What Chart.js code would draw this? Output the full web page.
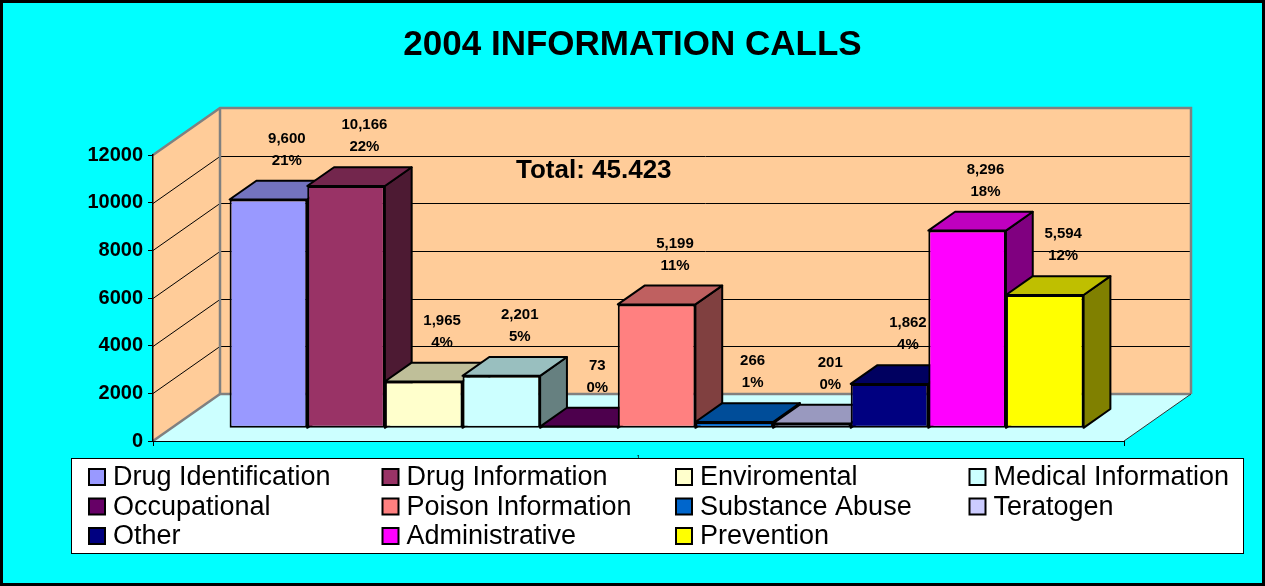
<!DOCTYPE html>
<html>
<head>
<meta charset="utf-8">
<title>2004 Information Calls</title>
<script src="https://cdn.jsdelivr.net/npm/chart.js@4.4.1/dist/chart.umd.min.js"></script>
<style>
  html, body { margin: 0; padding: 0; background: #00FFFF; }
  canvas { display: block; }
</style>
</head>
<body>
<canvas id="calls" width="1265" height="586"></canvas>
<script>
// ---- data ----
const categories = ['1'];
const seriesNames = [
  'Drug Identification', 'Drug Information', 'Enviromental', 'Medical Information',
  'Occupational', 'Poison Information', 'Substance Abuse', 'Teratogen',
  'Other', 'Administrative', 'Prevention'
];
const callCounts = [9600, 10166, 1965, 2201, 73, 5199, 266, 201, 1862, 8296, 5594];
const yTickValues = [0, 2000, 4000, 6000, 8000, 10000, 12000];
const seriesColors = [
  '#9999FF', '#993366', '#FFFFCC', '#CCFFFF', '#660066', '#FF8080',
  '#0066CC', '#CCCCFF', '#000080', '#FF00FF', '#FFFF00'
];

// ---- styling / 3D projection ----
const FONT = "'Liberation Sans', Arial, Helvetica, sans-serif";
Chart.defaults.font.family = FONT;
const DEPTH = { x: 67, y: -47 };      // floor depth as a screen offset
const BAR_FRONT = 0.27;               // bars start this far back on the floor
const BAR_DEPTH = 0.40;               // and are this deep
const WALL = '#FFCC99', FLOOR = '#CCFFFF', EDGE = '#808080';

const total = callCounts.reduce((a, b) => a + b, 0);
const groupDigits = (n, sep) => String(n).replace(/\B(?=(\d{3})+(?!\d))/g, sep);

function shade(hex, f) {
  const n = parseInt(hex.slice(1), 16);
  const r = Math.round(((n >> 16) & 255) * f);
  const g = Math.round(((n >> 8) & 255) * f);
  const b = Math.round((n & 255) * f);
  return `rgb(${r},${g},${b})`;
}

function polygon(ctx, pts, fill, stroke, lw) {
  ctx.beginPath();
  pts.forEach(([x, y], i) => (i ? ctx.lineTo(x, y) : ctx.moveTo(x, y)));
  ctx.closePath();
  if (fill) { ctx.fillStyle = fill; ctx.fill(); }
  if (stroke) { ctx.strokeStyle = stroke; ctx.lineWidth = lw; ctx.stroke(); }
}

function line(ctx, pts, color, lw) {
  ctx.beginPath();
  pts.forEach(([x, y], i) => (i ? ctx.lineTo(x, y) : ctx.moveTo(x, y)));
  ctx.strokeStyle = color; ctx.lineWidth = lw; ctx.stroke();
}

const chartFrame = {
  id: 'chartFrame',
  beforeDraw(chart) {
    const { ctx, width, height, chartArea: a, scales: { y } } = chart;
    ctx.save();
    ctx.fillStyle = '#00FFFF';
    ctx.fillRect(0, 0, width, height);
    ctx.strokeStyle = '#000';
    ctx.lineWidth = 3;
    ctx.strokeRect(1.5, 1.5, width - 3, height - 3);

    const L = a.left, R = a.right, B = a.bottom;
    const T = y.getPixelForValue(yTickValues[yTickValues.length - 1]);
    const dx = DEPTH.x, dy = DEPTH.y;

    polygon(ctx, [[L, B], [R, B], [R + dx, B + dy], [L + dx, B + dy]], FLOOR);
    polygon(ctx, [[L, B], [L, T], [L + dx, T + dy], [L + dx, B + dy]], WALL);
    polygon(ctx, [[L + dx, T + dy], [R + dx, T + dy], [R + dx, B + dy], [L + dx, B + dy]], WALL);

    // gridlines run across the side wall and along the back wall
    yTickValues.slice(1, -1).forEach(v => {
      const py = Math.round(y.getPixelForValue(v)) + 0.5;
      line(ctx, [[L, py], [L + dx, py + dy], [R + dx, py + dy]], '#000', 1);
    });

    // wall and floor edges
    line(ctx, [[L, T], [L + dx, T + dy], [R + dx, T + dy], [R + dx, B + dy]], EDGE, 2.5);
    line(ctx, [[L + dx, T + dy], [L + dx, B + dy], [R + dx, B + dy]], EDGE, 2.5);
    line(ctx, [[L, B], [L + dx, B + dy]], EDGE, 2.5);
    line(ctx, [[R, B], [R + dx, B + dy]], '#333', 1);
    ctx.restore();
  },

  beforeDatasetsDraw(chart) {
    const { ctx } = chart;
    const ox = DEPTH.x * BAR_FRONT, oy = DEPTH.y * BAR_FRONT;
    const bx = DEPTH.x * BAR_DEPTH, by = DEPTH.y * BAR_DEPTH;
    // left to right so each box covers the hidden side of its neighbour
    chart.data.datasets.forEach((ds, i) => {
      chart.getDatasetMeta(i).data.forEach(el => {
        const { x, y, base, width } = el.getProps(['x', 'y', 'base', 'width'], true);
        const l = x - width / 2 + ox, r = x + width / 2 + ox;
        const t = y + oy, b = base + oy;
        ctx.save();
        ctx.lineJoin = 'round';
        polygon(ctx, [[r, t], [r + bx, t + by], [r + bx, b + by], [r, b]], shade(ds.backgroundColor, 0.5), '#000', 2);
        polygon(ctx, [[l, t], [r, t], [r + bx, t + by], [l + bx, t + by]], shade(ds.backgroundColor, 0.75), '#000', 2);
        ctx.translate(ox, oy);
        el.draw(ctx);
        ctx.restore();
      });
    });
    return false;
  },

  afterDraw(chart) {
    const { ctx } = chart;
    const ox = DEPTH.x * BAR_FRONT, oy = DEPTH.y * BAR_FRONT;
    const bx = DEPTH.x * BAR_DEPTH, by = DEPTH.y * BAR_DEPTH;
    ctx.save();

    // value and share labels above each box
    ctx.fillStyle = '#000';
    ctx.textAlign = 'center';
    ctx.textBaseline = 'middle';
    ctx.font = `bold 15px ${FONT}`;
    chart.data.datasets.forEach((ds, i) => {
      chart.getDatasetMeta(i).data.forEach((el, j) => {
        const { x, y } = el.getProps(['x', 'y'], true);
        const v = ds.data[j];
        const cx = x + ox + bx / 2 + 5;
        const cy = y + oy + by - 20;
        ctx.fillText(groupDigits(v, ','), cx, cy - 22);
        ctx.fillText(Math.round(v / total * 100) + '%', cx, cy);
      });
    });

    // total annotation
    ctx.textAlign = 'left';
    ctx.font = `bold 26px ${FONT}`;
    ctx.fillText('Total: ' + groupDigits(total, '.'), 516, 171);

    // legend box: four columns, filled row by row
    const lx = 71.5, ly = 458.5, lw = 1172, lh = 95;
    ctx.fillStyle = '#FFFFFF';
    ctx.fillRect(lx, ly, lw, lh);
    ctx.strokeStyle = '#000';
    ctx.lineWidth = 1;
    ctx.strokeRect(lx, ly, lw, lh);
    ctx.font = `27px ${FONT}`;
    ctx.textBaseline = 'middle';
    chart.data.datasets.forEach((ds, i) => {
      const col = i % 4, row = Math.floor(i / 4);
      const sx = lx + 17.5 + col * 293.5;
      const sy = ly + 18.5 + row * 29.5;
      ctx.fillStyle = ds.backgroundColor;
      ctx.fillRect(sx, sy - 8, 16, 16);
      ctx.lineWidth = 2;
      ctx.strokeRect(sx, sy - 8, 16, 16);
      ctx.fillStyle = '#000';
      ctx.fillText(ds.label, sx + 24, sy + 1);
    });
    ctx.restore();
  }
};

const datasets = seriesNames.map((name, i) => ({
  label: name,
  data: [callCounts[i]],
  backgroundColor: seriesColors[i],
  borderColor: '#000',
  borderWidth: 2,
  borderSkipped: false
}));

new Chart(document.getElementById('calls'), {
  type: 'bar',
  data: { labels: categories, datasets },
  plugins: [chartFrame],
  options: {
    responsive: false,
    devicePixelRatio: 1,
    animation: false,
    events: [],
    categoryPercentage: 0.8795,
    barPercentage: 1,
    layout: { padding: { left: 0, top: 0, right: 0, bottom: 125 } },
    plugins: {
      legend: { display: false },
      tooltip: { enabled: false },
      title: {
        display: true,
        text: '2004 INFORMATION CALLS',
        color: '#000',
        font: { family: FONT, size: 35, weight: 'bold' },
        padding: { top: 24, bottom: 89 }
      }
    },
    scales: {
      x: {
        afterFit: s => { s.height = 20; },
        grid: { drawOnChartArea: false, tickLength: 5, color: '#000', offset: true },
        border: { color: '#000', width: 1 },
        ticks: { color: '#000', font: { size: 7 }, padding: 8 }
      },
      y: {
        min: yTickValues[0],
        max: yTickValues[yTickValues.length - 1],
        afterFit: s => { s.width = 153; },
        afterBuildTicks: s => { s.ticks = yTickValues.map(v => ({ value: v })); },
        grid: { drawOnChartArea: false, tickLength: 5, color: '#000' },
        border: { color: '#000', width: 1.5 },
        ticks: {
          color: '#000',
          padding: 5,
          font: { size: 20, weight: 'bold' },
          callback: v => String(v)
        }
      },
      // empty margin on the right that leaves room for the floor's depth
      yRight: {
        position: 'right',
        display: true,
        afterFit: s => { s.width = 141; },
        grid: { display: false },
        border: { display: false },
        ticks: { display: false }
      }
    }
  }
});
</script>
</body>
</html>
